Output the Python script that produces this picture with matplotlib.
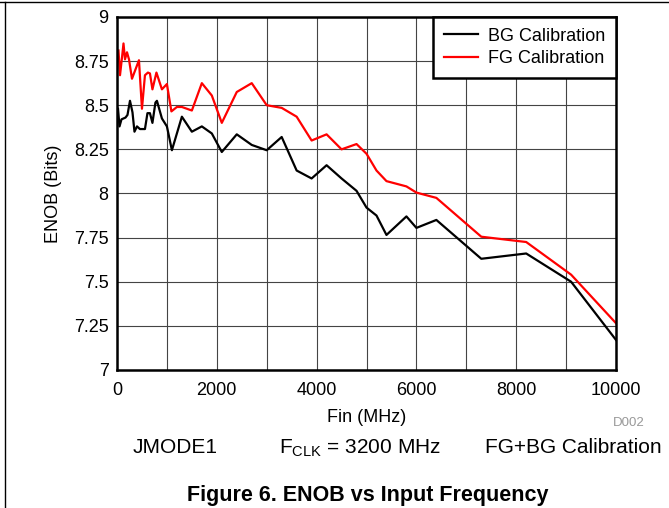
import matplotlib
matplotlib.use("Agg")
import matplotlib.pyplot as plt
from matplotlib.lines import Line2D

plt.rcParams['font.family'] = ['Liberation Sans', 'DejaVu Sans']

# FG calibration (red)
fg_x = [30, 60, 100, 130, 160, 200, 240, 300, 440, 500, 560, 620, 660, 710,
        790, 900, 1000, 1090, 1200, 1300, 1500, 1700, 1900, 2100, 2400, 2700,
        3000, 3300, 3600, 3900, 4200, 4500, 4800, 5000, 5200, 5400, 5800,
        6000, 6400, 7300, 8200, 9100, 10000]
fg_y = [8.81, 8.67, 8.77, 8.85, 8.76, 8.80, 8.76, 8.65, 8.755, 8.48, 8.67,
        8.685, 8.68, 8.59, 8.685, 8.59, 8.62, 8.465, 8.49, 8.49, 8.47, 8.625,
        8.555, 8.40, 8.575, 8.625, 8.50, 8.485, 8.435, 8.30, 8.335, 8.25,
        8.28, 8.225, 8.13, 8.07, 8.04, 8.005, 7.975, 7.755, 7.725, 7.54, 7.265]

# BG calibration (black)
bg_x = [20, 50, 90, 170, 210, 260, 310, 350, 400, 460, 560, 610, 660, 710,
        770, 800, 900, 1000, 1100, 1300, 1500, 1700, 1900, 2100, 2400, 2700,
        3000, 3300, 3600, 3900, 4200, 4500, 4800, 5000, 5200, 5400, 5800,
        6000, 6400, 7300, 8200, 9100, 10000]
bg_y = [8.48, 8.38, 8.42, 8.43, 8.445, 8.525, 8.46, 8.35, 8.38, 8.365, 8.365,
        8.455, 8.455, 8.40, 8.515, 8.525, 8.425, 8.38, 8.245, 8.435, 8.35,
        8.38, 8.34, 8.235, 8.335, 8.275, 8.245, 8.32, 8.13, 8.085, 8.16,
        8.085, 8.015, 7.92, 7.875, 7.765, 7.87, 7.805, 7.85, 7.63, 7.66,
        7.50, 7.17]

xticks = [0, 2000, 4000, 6000, 8000, 10000]
yticks = [7, 7.25, 7.5, 7.75, 8, 8.25, 8.5, 8.75, 9]
ytick_labels = ['7', '7.25', '7.5', '7.75', '8', '8.25', '8.5', '8.75', '9']

fig = plt.figure(figsize=(6.69, 5.08), dpi=100)
ax = fig.add_axes([0.1749, 0.2717, 0.7459, 0.6949])

ax.plot(bg_x, bg_y, color='black', lw=1.6, label='BG Calibration', zorder=3)
ax.plot(fg_x, fg_y, color='red', lw=1.6, label='FG Calibration', zorder=3)

ax.set_xlim(0, 10000)
ax.set_ylim(7, 9)
ax.set_xticks(xticks)
ax.set_yticks(yticks)
ax.set_yticklabels(ytick_labels)
ax.set_xticks(range(0, 10001, 1000), minor=True)
ax.grid(True, which='both', color='#444444', lw=0.8)
ax.tick_params(which='both', length=0)
ax.tick_params(axis='x', labelsize=13, pad=9)
ax.tick_params(axis='y', labelsize=13, pad=6)
for s in ax.spines.values():
    s.set_linewidth(1.8)
    s.set_zorder(4)

ax.set_xlabel('Fin (MHz)', fontsize=13)
ax.xaxis.set_label_coords(0.5, -0.111)
ax.set_ylabel('ENOB (Bits)', fontsize=13)
ax.yaxis.set_label_coords(-0.11, 0.5)

leg = ax.legend(loc='upper right', fontsize=13, frameon=True, fancybox=False,
                framealpha=1, borderaxespad=0, handlelength=1.9,
                handletextpad=0.55, labelspacing=0.3, borderpad=0.6)
leg.get_frame().set_edgecolor('black')
leg.get_frame().set_linewidth(1.8)
leg.set_zorder(5)

fig.text(0.964, 0.1673, 'D002', fontsize=9.5, color='#999999', ha='right', va='center')
fig.text(0.2623, 0.108, 'JMODE1', fontsize=15, ha='center', va='baseline')
fig.text(0.538, 0.108, r'F$_{\mathregular{CLK}}$ = 3200 MHz', fontsize=15,
         ha='center', va='baseline')
fig.text(0.9895, 0.108, 'FG+BG Calibration', fontsize=15, ha='right', va='baseline')
fig.text(0.5493, 0.0138, 'Figure 6. ENOB vs Input Frequency', fontsize=15.5,
         fontweight='bold', ha='center', va='baseline')

# page frame
fig.add_artist(Line2D([0.0075, 0.0075], [0, 0.997], color='black', lw=1))
fig.add_artist(Line2D([0, 1], [0.997, 0.997], color='black', lw=1))

fig.savefig('out.png', dpi=100)
